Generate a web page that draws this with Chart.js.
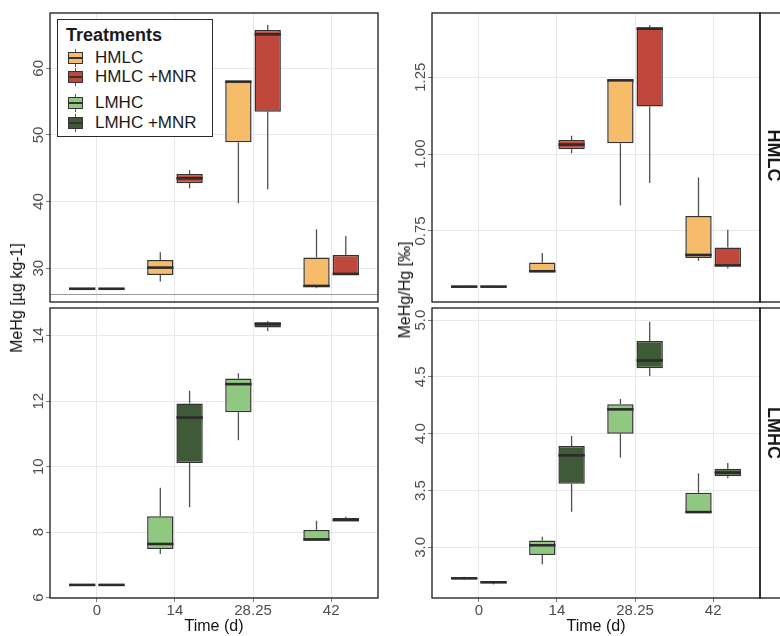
<!DOCTYPE html>
<html>
<head>
<meta charset="utf-8">
<script src="https://cdn.jsdelivr.net/npm/chart.js@4.4.0/dist/chart.umd.min.js"></script>
<style>
html,body{margin:0;padding:0;background:#ffffff;}
body{width:780px;height:636px;position:relative;overflow:hidden;font-family:"Liberation Sans",Arial,sans-serif;}
canvas{position:absolute;display:block;}
.ytitle{position:absolute;transform:translate(-50%,-50%) rotate(-90deg);white-space:nowrap;font-size:16px;font-weight:normal;color:#111;line-height:16px;}
#legend{position:absolute;left:57px;top:19px;width:154px;height:116px;border:1.4px solid #2a2a2a;background:#fff;}
#legend .ttl{position:absolute;left:8px;top:5px;font-weight:bold;font-size:18px;line-height:20px;color:#1a1a1a;}
#legend .item{position:absolute;left:0;height:18px;}
#legend .txt{position:absolute;left:37px;top:0;font-size:17px;line-height:18px;color:#1a1a1a;white-space:nowrap;}
#legend .wh{position:absolute;left:17px;top:0;width:1px;height:18px;background:#555;}
#legend .bx{position:absolute;left:10px;top:3px;width:13px;height:10px;border:1px solid #333;}
#legend .md{position:absolute;left:0;top:4px;width:13px;height:2px;background:#333;}
</style>
</head>
<body>
<canvas id="cTL" width="390" height="305" style="left:0;top:0;width:390px;height:305px;"></canvas>
<canvas id="cBL" width="390" height="331" style="left:0;top:305px;width:390px;height:331px;"></canvas>
<canvas id="cTR" width="390" height="305" style="left:390px;top:0;width:390px;height:305px;"></canvas>
<canvas id="cBR" width="390" height="331" style="left:390px;top:305px;width:390px;height:331px;"></canvas>
<div class="ytitle" style="left:17px;top:298px;">MeHg [µg kg-1]</div>
<div class="ytitle" style="left:405px;top:290px;">MeHg/Hg [‰]</div>
<div id="legend"><div class="ttl">Treatments</div></div>
<script>
// ---------- data ----------
const times = ['0', '14', '28.25', '42'];
const treatments = ['HMLC', 'HMLC +MNR', 'LMHC', 'LMHC +MNR'];
const colors = ['#F7BC6A', '#C0473B', '#91C881', '#3F5A37'];

// five-number summaries per time point: [min, q1, median, q3, max]
const mehg_HMLC = [[26.85, 26.88, 26.93, 26.98, 27.0], [28.0, 29.0, 30.1, 31.25, 32.4], [39.75, 48.9, 58.0, 58.15, 58.15], [27.0, 27.15, 27.35, 31.6, 35.85]];
const mehg_HMLC_MNR = [[26.85, 26.88, 26.93, 26.98, 27.0], [42.0, 42.75, 43.5, 44.15, 44.7], [41.85, 53.5, 65.1, 65.75, 66.5], [29.0, 29.0, 29.15, 32.0, 34.85]];
const mehg_LMHC = [[6.37, 6.37, 6.39, 6.41, 6.41], [7.33, 7.49, 7.64, 8.49, 9.36], [10.81, 11.66, 12.52, 12.69, 12.85], [7.74, 7.74, 7.78, 8.07, 8.35]];
const mehg_LMHC_MNR = [[6.37, 6.37, 6.39, 6.41, 6.41], [8.76, 10.11, 11.5, 11.93, 12.32], [14.14, 14.25, 14.36, 14.41, 14.45], [8.33, 8.33, 8.37, 8.43, 8.47]];

const ratio_HMLC = [[0.565, 0.566, 0.569, 0.572, 0.573], [0.616, 0.616, 0.619, 0.6475, 0.678], [0.833, 1.035, 1.24, 1.242, 1.242], [0.653, 0.662, 0.672, 0.799, 0.924]];
const ratio_HMLC_MNR = [[0.565, 0.566, 0.569, 0.572, 0.573], [1.003, 1.016, 1.031, 1.0456, 1.06], [0.906, 1.155, 1.408, 1.413, 1.419], [0.628, 0.635, 0.638, 0.696, 0.754]];
const ratio_LMHC = [[2.715, 2.72, 2.727, 2.735, 2.74], [2.85, 2.933, 3.018, 3.059, 3.094], [3.79, 4.0, 4.214, 4.258, 4.305], [3.308, 3.308, 3.31, 3.48, 3.651]];
const ratio_LMHC_MNR = [[2.674, 2.685, 2.692, 2.70, 2.70], [3.314, 3.56, 3.809, 3.891, 3.98], [4.507, 4.575, 4.645, 4.815, 4.985], [3.607, 3.625, 3.657, 3.692, 3.742]];

// axis ranges and tick labels
const ticks_mehg_HMLC = [30, 40, 50, 60];
const ticks_mehg_LMHC = [6, 8, 10, 12, 14];
const ticks_ratio_HMLC = [0.75, 1.00, 1.25];
const ticks_ratio_LMHC = [3.0, 3.5, 4.0, 4.5, 5.0];
const range_mehg_HMLC = [24.94, 68.3];
const range_mehg_LMHC = [5.99, 14.846];
const range_ratio_HMLC = [0.519, 1.459];
const range_ratio_LMHC = [2.554, 5.106];
const hline_mehg_HMLC = 26.1;

// ---------- drawing ----------
const FONT = '"Liberation Sans", Arial, sans-serif';
const GRID = '#e8e8e8';

const boxPlugin = {
  id: 'boxp',
  beforeDatasetsDraw(chart, args, o) {
    const {ctx, chartArea: a} = chart;
    const y = chart.scales.y;
    ctx.save();
    ctx.beginPath();
    ctx.rect(a.left, a.top, a.right - a.left, a.bottom - a.top);
    ctx.clip();
    if (o.hline != null) {
      const py = Math.round(y.getPixelForValue(o.hline)) + 0.5;
      ctx.strokeStyle = '#9a9a9a';
      ctx.lineWidth = 1;
      ctx.beginPath(); ctx.moveTo(a.left, py); ctx.lineTo(a.right, py); ctx.stroke();
    }
    ctx.strokeStyle = '#505050';
    ctx.lineWidth = 1.3;
    chart.data.datasets.forEach((ds, k) => {
      chart.getDatasetMeta(k).data.forEach((el, i) => {
        const s = ds.stats[i];
        const x = el.x;
        ctx.beginPath();
        ctx.moveTo(x, y.getPixelForValue(s[0])); ctx.lineTo(x, y.getPixelForValue(s[1]));
        ctx.moveTo(x, y.getPixelForValue(s[3])); ctx.lineTo(x, y.getPixelForValue(s[4]));
        ctx.stroke();
      });
    });
    ctx.restore();
  },
  afterDatasetsDraw(chart) {
    const {ctx} = chart;
    const y = chart.scales.y;
    ctx.save();
    ctx.strokeStyle = '#2b2b2b';
    ctx.lineWidth = 2.6;
    chart.data.datasets.forEach((ds, k) => {
      chart.getDatasetMeta(k).data.forEach((el, i) => {
        const py = y.getPixelForValue(ds.stats[i][2]);
        ctx.beginPath();
        ctx.moveTo(el.x - el.width / 2, py); ctx.lineTo(el.x + el.width / 2, py);
        ctx.stroke();
      });
    });
    ctx.restore();
  },
  afterDraw(chart, args, o) {
    const {ctx, chartArea: a} = chart;
    const y = chart.scales.y;
    ctx.save();
    if (o.strip) {
      ctx.fillStyle = '#ffffff';
      ctx.fillRect(a.right, a.top, 40, a.bottom - a.top);
      ctx.strokeStyle = '#1a1a1a';
      ctx.lineWidth = 1.3;
      ctx.strokeRect(a.right, a.top, 40, a.bottom - a.top);
      ctx.translate(a.right + 13, (a.top + a.bottom) / 2 + o.stripShift);
      ctx.rotate(Math.PI / 2);
      ctx.fillStyle = '#1a1a1a';
      ctx.font = 'bold 18px ' + FONT;
      ctx.textAlign = 'center';
      ctx.textBaseline = 'middle';
      ctx.fillText(o.strip, 0, 0);
      ctx.setTransform(1, 0, 0, 1, 0, 0);
    }
    ctx.strokeStyle = '#1a1a1a';
    ctx.lineWidth = 1.3;
    ctx.strokeRect(a.left, a.top, a.right - a.left, a.bottom - a.top);
    ctx.fillStyle = '#4d4d4d';
    ctx.font = '15px ' + FONT;
    ctx.textAlign = 'center';
    ctx.textBaseline = 'middle';
    y.ticks.forEach(t => {
      const py = y.getPixelForValue(t.value);
      ctx.save();
      ctx.translate(a.left - 11, py);
      ctx.rotate(-Math.PI / 2);
      ctx.fillText(t.value.toFixed(o.dec), 0, 0);
      ctx.restore();
    });
    ctx.restore();
  }
};

function panel(id, series, cols, names, yr, yticks, cfg) {
  const datasets = series.map((s, k) => ({
    label: names[k],
    data: s.map((v, i) => ({x: i, y: [v[1], v[3]]})),
    stats: s,
    backgroundColor: cols[k],
    borderColor: '#333333',
    borderWidth: 1.5,
    borderSkipped: false,
    categoryPercentage: 0.75,
    barPercentage: 0.9
  }));
  return new Chart(document.getElementById(id), {
    type: 'bar',
    data: {datasets},
    options: {
      responsive: false,
      animation: false,
      devicePixelRatio: 1,
      layout: {padding: cfg.padding},
      plugins: {
        legend: {display: false},
        tooltip: {enabled: false},
        boxp: {dec: cfg.dec, hline: cfg.hline, strip: cfg.strip, stripShift: cfg.stripShift || 0}
      },
      scales: {
        x: {
          type: 'linear', min: -0.6, max: 3.6, offset: false,
          afterBuildTicks: s => { s.ticks = times.map((t, i) => ({value: i})); },
          afterFit: s => { s.height = cfg.xHeight; },
          grid: {color: GRID, lineWidth: 1, offset: false, drawTicks: cfg.showX, tickLength: 4, tickColor: '#808080'},
          border: {display: false},
          ticks: {display: cfg.showX, padding: 1, color: '#4d4d4d', font: {size: 15, family: FONT, lineHeight: 1}, callback: v => times[v], maxRotation: 0, autoSkip: false},
          title: {display: cfg.showX, text: 'Time (d)', color: '#111111', font: {size: 16, family: FONT, lineHeight: 1.2}, padding: {top: 0, bottom: 0}}
        },
        y: {
          type: 'linear', min: yr[0], max: yr[1], beginAtZero: false,
          afterBuildTicks: s => { s.ticks = yticks.map(v => ({value: v})); },
          afterFit: s => { s.width = cfg.yWidth; },
          grid: {color: GRID, lineWidth: 1, drawTicks: true, tickLength: 4, tickColor: '#808080'},
          border: {display: false},
          ticks: {display: false}
        }
      }
    },
    plugins: [boxPlugin]
  });
}

panel('cTL', [mehg_HMLC, mehg_HMLC_MNR], [colors[0], colors[1]], [treatments[0], treatments[1]],
  range_mehg_HMLC, ticks_mehg_HMLC,
  {padding: {left: 0, right: 12, top: 13, bottom: 3}, yWidth: 50, xHeight: 0, showX: false, dec: 0, hline: hline_mehg_HMLC});
panel('cBL', [mehg_LMHC, mehg_LMHC_MNR], [colors[2], colors[3]], [treatments[2], treatments[3]],
  range_mehg_LMHC, ticks_mehg_LMHC,
  {padding: {left: 0, right: 12, top: 3, bottom: 0}, yWidth: 50, xHeight: 38, showX: true, dec: 0});
panel('cTR', [ratio_HMLC, ratio_HMLC_MNR], [colors[0], colors[1]], [treatments[0], treatments[1]],
  range_ratio_HMLC, ticks_ratio_HMLC,
  {padding: {left: 0, right: 20, top: 13, bottom: 3}, yWidth: 42, xHeight: 0, showX: false, dec: 2, strip: 'HMLC', stripShift: -2});
panel('cBR', [ratio_LMHC, ratio_LMHC_MNR], [colors[2], colors[3]], [treatments[2], treatments[3]],
  range_ratio_LMHC, ticks_ratio_LMHC,
  {padding: {left: 0, right: 20, top: 3, bottom: 0}, yWidth: 42, xHeight: 38, showX: true, dec: 1, strip: 'LMHC', stripShift: -20});

// legend
const legend = document.getElementById('legend');
const legendTops = [29, 48, 74, 94];
treatments.forEach((t, i) => {
  const it = document.createElement('div');
  it.className = 'item';
  it.style.top = legendTops[i] + 'px';
  it.innerHTML = '<div class="wh"></div><div class="bx" style="background:' + colors[i] + '"><div class="md"></div></div><div class="txt">' + t + '</div>';
  legend.appendChild(it);
});
</script>
</body>
</html>
